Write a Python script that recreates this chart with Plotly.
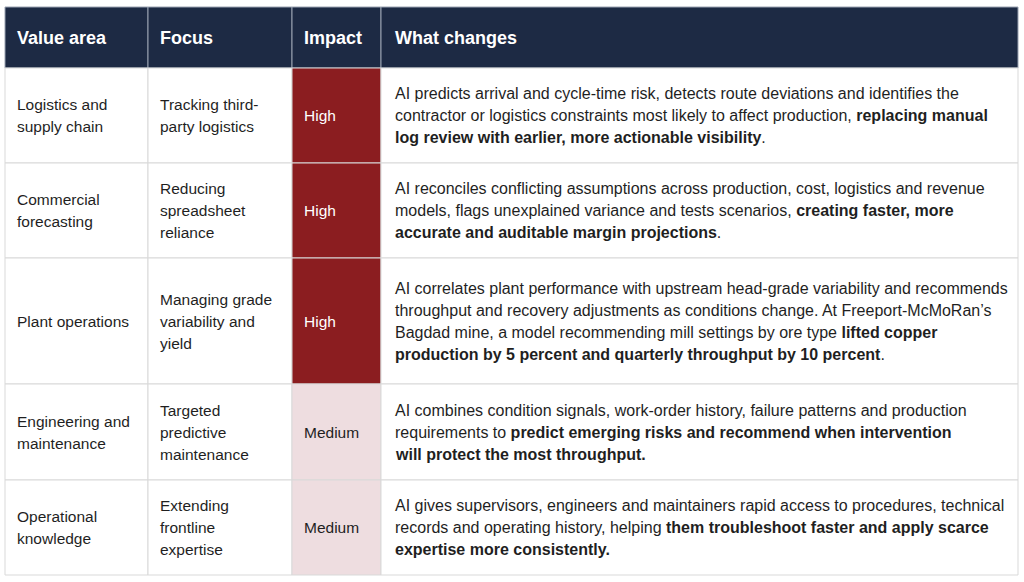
import plotly.graph_objects as go

# table content
columns = ["Value area", "Focus", "Impact", "What changes"]
value_area = [
    "Logistics and<br>supply chain",
    "Commercial<br>forecasting",
    "Plant operations",
    "Engineering and<br>maintenance",
    "Operational<br>knowledge",
]
focus = [
    "Tracking third-<br>party logistics",
    "Reducing<br>spreadsheet<br>reliance",
    "Managing grade<br>variability and<br>yield",
    "Targeted<br>predictive<br>maintenance",
    "Extending<br>frontline<br>expertise",
]
impact = ["High", "High", "High", "Medium", "Medium"]
what_changes = [
    "AI predicts arrival and cycle-time risk, detects route deviations and identifies the<br>"
    "contractor or logistics constraints most likely to affect production, <b>replacing manual</b><br>"
    "<b>log review with earlier, more actionable visibility</b>.",
    "AI reconciles conflicting assumptions across production, cost, logistics and revenue<br>"
    "models, flags unexplained variance and tests scenarios, <b>creating faster, more</b><br>"
    "<b>accurate and auditable margin projections</b>.",
    "AI correlates plant performance with upstream head-grade variability and recommends<br>"
    "throughput and recovery adjustments as conditions change. At Freeport-McMoRan\u2019s<br>"
    "Bagdad mine, a model recommending mill settings by ore type <b>lifted copper</b><br>"
    "<b>production by 5 percent and quarterly throughput by 10 percent</b>.",
    "AI combines condition signals, work-order history, failure patterns and production<br>"
    "requirements to <b>predict emerging risks and recommend when intervention</b><br>"
    "<b>will protect the most throughput.</b>",
    "AI gives supervisors, engineers and maintainers rapid access to procedures, technical<br>"
    "records and operating history, helping <b>them troubleshoot faster and apply scarce</b><br>"
    "<b>expertise more consistently.</b>",
]

# layout (pixels)
W, H = 1024, 582
x0, y0 = 5, 7
col_widths = [143, 144, 89, 637]
header_h = 61
row_heights = [95, 95, 126, 96, 95]
pad = [10, 10, 10, 12]
font_sizes = [15.5, 15.5, 15.5, 16]
line_gap = 22

NAVY = "#1d2a44"
GRID = "#d9d9d9"
TEXT = "#1f1f1f"
impact_style = {"High": ("#8b1d20", "#ffffff"), "Medium": ("#eedde0", TEXT)}
FONT = "Liberation Sans, Arial, sans-serif"

col_edges = [x0]
for w in col_widths:
    col_edges.append(col_edges[-1] + w)
row_edges = [y0 + header_h]
for h in row_heights:
    row_edges.append(row_edges[-1] + h)

fig = go.Figure()
shapes, annotations = [], []


def add_text(text, x, yc, size, color):
    lines = text.split("<br>")
    n = len(lines)
    for i, ln in enumerate(lines):
        annotations.append(dict(
            x=x, y=yc + (i - (n - 1) / 2) * line_gap, text=ln,
            xref="x", yref="y", xanchor="left", yanchor="middle",
            showarrow=False, align="left",
            font=dict(family=FONT, size=size, color=color),
        ))


# header
for j, name in enumerate(columns):
    shapes.append(dict(type="rect", xref="x", yref="y",
                       x0=col_edges[j], x1=col_edges[j + 1], y0=y0, y1=y0 + header_h,
                       fillcolor=NAVY, line=dict(color="#9aa2b1", width=1), layer="below"))
    add_text("<b>%s</b>" % name, col_edges[j] + pad[j], y0 + header_h / 2, 18, "#ffffff")

# body
for i in range(len(value_area)):
    ya, yb = row_edges[i], row_edges[i + 1]
    yc = (ya + yb) / 2
    cells = [value_area[i], focus[i], impact[i], what_changes[i]]
    for j, txt in enumerate(cells):
        fill, color = "#ffffff", TEXT
        if j == 2:
            fill, color = impact_style[txt]
        shapes.append(dict(type="rect", xref="x", yref="y",
                           x0=col_edges[j], x1=col_edges[j + 1], y0=ya, y1=yb,
                           fillcolor=fill, line=dict(color=GRID, width=1), layer="below"))
        add_text(txt, col_edges[j] + pad[j], yc, font_sizes[j], color)

fig.update_layout(
    width=W, height=H,
    margin=dict(l=0, r=0, t=0, b=0),
    paper_bgcolor="white", plot_bgcolor="white",
    xaxis=dict(range=[0, W], visible=False, fixedrange=True),
    yaxis=dict(range=[H, 0], visible=False, fixedrange=True),
    shapes=shapes, annotations=annotations,
    showlegend=False,
)

fig.write_html("out.html", config={"displayModeBar": False},
               post_script="document.body.style.margin='0';")
